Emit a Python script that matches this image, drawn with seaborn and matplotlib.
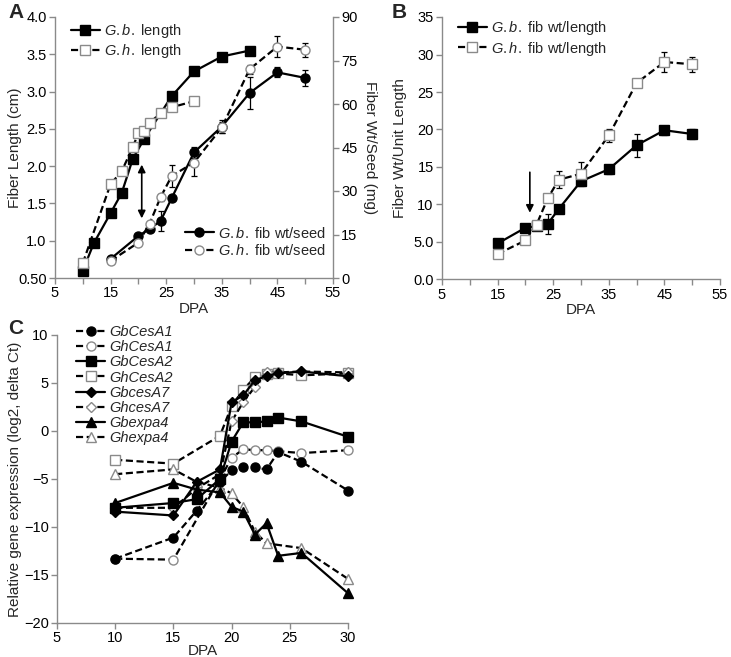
import numpy as np
import pandas as pd
import matplotlib
matplotlib.use("Agg")
import matplotlib.pyplot as plt
import seaborn as sns
from matplotlib.lines import Line2D

sns.set_theme(style="ticks")
plt.rcParams["font.family"] = ["Liberation Sans", "DejaVu Sans"]
plt.rcParams["mathtext.fontset"] = "custom"
plt.rcParams["mathtext.it"] = "Liberation Sans:italic"
plt.rcParams["mathtext.rm"] = "Liberation Sans"
plt.rcParams["font.size"] = 10

# ---------------- Panel A data ----------------
gb_len_dpa = [10, 12, 15, 17, 19, 21, 26, 30, 35, 40]
gb_len = [0.60, 0.97, 1.37, 1.64, 2.10, 2.36, 2.94, 3.27, 3.47, 3.55]
gh_len_dpa = [10, 15, 17, 19, 20, 21, 22, 24, 26, 30]
gh_len = [0.70, 1.76, 1.93, 2.26, 2.44, 2.47, 2.58, 2.71, 2.79, 2.87]

wt_dpa = [15, 20, 22, 24, 26, 30, 35, 40, 45, 50]
gb_wt = [6.6, 14.5, 16.9, 19.7, 27.6, 43.3, 52.2, 63.8, 70.9, 69.0]
gb_wt_err = [0, 0, 0, 3.5, 0, 2.0, 2.3, 5.5, 1.7, 2.8]
gh_wt = [5.9, 12.2, 18.7, 27.9, 35.2, 39.8, 51.9, 72.0, 79.8, 78.7]
gh_wt_err = [0, 0, 0, 1.2, 3.7, 4.5, 2.0, 1.5, 3.7, 2.5]

# ---------------- Panel B data ----------------
wl_dpa = [15, 20, 22, 24, 26, 30, 35, 40, 45, 50]
gb_wl = [4.8, 6.9, 7.1, 7.4, 9.4, 13.1, 14.7, 17.9, 19.9, 19.4]
gb_wl_err = [0, 0, 0, 1.3, 0, 0.6, 0.6, 1.5, 0.6, 0.6]
gh_wl = [3.4, 5.2, 7.3, 10.8, 13.3, 14.1, 19.2, 26.2, 29.0, 28.7]
gh_wl_err = [0, 0, 0, 0, 1.1, 1.5, 0.9, 0.5, 1.3, 1.0]

# ---------------- Panel C data ----------------
gbcesa1_dpa = [10, 15, 17, 19, 20, 21, 22, 23, 24, 26, 30]
gbcesa1 = [-13.3, -11.1, -8.3, -5.3, -4.1, -3.8, -3.8, -4.0, -2.2, -3.2, -6.2]
ghcesa1_dpa = [10, 15, 19, 20, 21, 22, 23, 24, 26, 30]
ghcesa1 = [-13.3, -13.4, -5.0, -2.8, -1.9, -2.0, -2.0, -2.1, -2.3, -2.0]
gbcesa2_dpa = [10, 15, 17, 19, 20, 21, 22, 23, 24, 26, 30]
gbcesa2 = [-8.0, -7.5, -7.1, -5.0, -1.1, 0.9, 0.9, 1.0, 1.4, 1.0, -0.6]
ghcesa2_dpa = [10, 15, 19, 20, 21, 22, 23, 24, 26, 30]
ghcesa2 = [-3.0, -3.4, -0.5, 2.6, 4.3, 5.6, 5.9, 6.0, 5.8, 6.0]
gbcesa7_dpa = [10, 15, 17, 19, 20, 21, 22, 23, 24, 26, 30]
gbcesa7 = [-8.4, -8.8, -5.3, -4.0, 3.0, 3.7, 5.3, 5.7, 6.0, 6.2, 5.7]
ghcesa7_dpa = [10, 15, 17, 19, 20, 21, 22, 23, 24, 26, 30]
ghcesa7 = [-8.0, -8.0, -6.0, -4.5, 1.0, 3.0, 4.6, 6.1, 6.1, 6.2, 6.1]
gbexpa4_dpa = [10, 15, 17, 19, 20, 21, 22, 23, 24, 26, 30]
gbexpa4 = [-7.5, -5.4, -6.1, -6.4, -7.9, -8.4, -10.8, -9.6, -13.0, -12.7, -16.9]
ghexpa4_dpa = [10, 15, 17, 19, 20, 21, 22, 23, 26, 30]
ghexpa4 = [-4.5, -4.0, -5.3, -5.9, -6.5, -7.9, -10.5, -11.7, -12.2, -15.4]

GRAY = "#8a8a8a"
LW = 1.6
DASH = (0, (3.2, 1.6))


def style(filled, dashed, marker, ms):
    return dict(color="black", lw=LW, linestyle=DASH if dashed else "-",
                marker=marker, markersize=ms,
                markerfacecolor="black" if filled else "white",
                markeredgecolor="black" if filled else GRAY,
                markeredgewidth=1.0)


def series(ax, x, y, marker, filled, dashed, ms=7, err=None, z=3):
    df = pd.DataFrame({"x": x, "y": y})
    if err is not None:
        e = np.array(err, dtype=float)
        m = e > 0
        ax.errorbar(np.array(x)[m], np.array(y)[m], yerr=e[m], fmt="none",
                    ecolor="black", elinewidth=0.9, capsize=2.2, capthick=0.9,
                    zorder=z - 0.5, clip_on=False)
    sns.lineplot(data=df, x="x", y="y", ax=ax, sort=False, estimator=None,
                 clip_on=False, zorder=z, **style(filled, dashed, marker, ms))


def handle(marker, filled, dashed, ms=7):
    return Line2D([], [], **style(filled, dashed, marker, ms))


def frame(ax):
    for s in ax.spines.values():
        s.set_color(GRAY)
        s.set_linewidth(1.0)
    ax.tick_params(axis="both", direction="out", length=4, width=1.0,
                   color=GRAY, labelsize=10.5, pad=2, labelcolor="black")
    ax.set_facecolor("none")


W, H = 731, 657
fig = plt.figure(figsize=(W / 100, H / 100), dpi=100)


def axes_px(l, t, r, b):
    return fig.add_axes([l / W, 1 - b / H, (r - l) / W, (b - t) / H])


# ---------------- Panel A ----------------
axA = axes_px(55, 17, 333, 278)
axA2 = axA.twinx()
series(axA, gb_len_dpa, gb_len, "s", True, False, ms=6.5)
series(axA, gh_len_dpa, gh_len, "s", False, True, ms=6.5)
series(axA2, wt_dpa, gb_wt, "o", True, False, ms=6.5, err=gb_wt_err)
series(axA2, wt_dpa, gh_wt, "o", False, True, ms=6.5, err=gh_wt_err)
axA.set_xlim(5, 55)
axA.set_ylim(0.5, 4.0)
axA2.set_ylim(0, 90)
axA.set_xticks(np.arange(5, 56, 5))
axA.set_xticklabels([str(v) if v % 10 == 5 else "" for v in range(5, 56, 5)])
axA.set_yticks([0.5, 1.0, 1.5, 2.0, 2.5, 3.0, 3.5, 4.0])
axA.set_yticklabels(["0.50", "1.0", "1.5", "2.0", "2.5", "3.0", "3.5", "4.0"])
axA2.set_yticks(np.arange(0, 91, 15))
axA.spines["top"].set_visible(False)
axA.spines["right"].set_visible(False)
axA2.spines["top"].set_visible(False)
axA2.spines["left"].set_visible(False)
axA2.spines["bottom"].set_visible(False)
frame(axA)
frame(axA2)
axA.set_xlabel("DPA", fontsize=11, labelpad=1)
axA.set_ylabel("Fiber Length (cm)", fontsize=11)
axA.yaxis.set_label_coords((22 - 55) / 278, 0.5)
axA2.set_ylabel("Fiber Wt/Seed (mg)", fontsize=11, rotation=270, labelpad=14)
axA.annotate("", xy=(20.6, 1.30), xytext=(20.6, 2.02),
             arrowprops=dict(arrowstyle="<|-|>", color="black", lw=1.2,
                             mutation_scale=11, shrinkA=0, shrinkB=0))
legA1 = axA.legend([handle("s", True, False, 6.5), handle("s", False, True, 6.5)],
                   [r"$\it{G.b.}$ length", r"$\it{G.h.}$ length"],
                   loc="upper left", bbox_to_anchor=(0.02, 1.02), frameon=False,
                   fontsize=10.5, handlelength=2.0, handletextpad=0.3,
                   labelspacing=0.15, borderpad=0.2)
legA2 = axA2.legend([handle("o", True, False, 6.5), handle("o", False, True, 6.5)],
                    [r"$\it{G.b.}$ fib wt/seed", r"$\it{G.h.}$ fib wt/seed"],
                    loc="upper left", bbox_to_anchor=(0.43, 0.24), frameon=False,
                    fontsize=10.5, handlelength=2.0, handletextpad=0.3,
                    labelspacing=0.15, borderpad=0.2)

# ---------------- Panel B ----------------
axB = axes_px(442, 17, 720, 279.5)
series(axB, wl_dpa, gb_wl, "s", True, False, ms=6.5, err=gb_wl_err)
series(axB, wl_dpa, gh_wl, "s", False, True, ms=6.5, err=gh_wl_err)
axB.set_xlim(5, 55)
axB.set_ylim(0, 35)
axB.set_xticks(np.arange(5, 56, 5))
axB.set_xticklabels([str(v) if v % 10 == 5 else "" for v in range(5, 56, 5)])
axB.set_yticks(np.arange(0, 36, 5))
axB.set_yticklabels(["0.0", "5.0", "10", "15", "20", "25", "30", "35"])
axB.spines["top"].set_visible(False)
axB.spines["right"].set_visible(False)
frame(axB)
axB.set_xlabel("DPA", fontsize=11, labelpad=1)
axB.set_ylabel("Fiber Wt/Unit Length", fontsize=11)
axB.yaxis.set_label_coords((407 - 442) / 278, 0.5)
axB.annotate("", xy=(20.8, 8.9), xytext=(20.8, 14.3),
             arrowprops=dict(arrowstyle="-|>", color="black", lw=1.2,
                             mutation_scale=11, shrinkA=0, shrinkB=0))
axB.legend([handle("s", True, False, 6.5), handle("s", False, True, 6.5)],
           [r"$\it{G.b.}$ fib wt/length", r"$\it{G.h.}$ fib wt/length"],
           loc="upper left", bbox_to_anchor=(0.02, 1.03), frameon=False,
           fontsize=10.5, handlelength=2.0, handletextpad=0.3,
           labelspacing=0.15, borderpad=0.2)

# ---------------- Panel C ----------------
axC = axes_px(57, 335, 348, 623)
specs = [
    (gbcesa1_dpa, gbcesa1, "o", True, True, "GbCesA1"),
    (ghcesa1_dpa, ghcesa1, "o", False, True, "GhCesA1"),
    (gbcesa2_dpa, gbcesa2, "s", True, False, "GbCesA2"),
    (ghcesa2_dpa, ghcesa2, "s", False, True, "GhCesA2"),
    (gbcesa7_dpa, gbcesa7, "D", True, False, "GbcesA7"),
    (ghcesa7_dpa, ghcesa7, "D", False, True, "GhcesA7"),
    (gbexpa4_dpa, gbexpa4, "^", True, False, "Gbexpa4"),
    (ghexpa4_dpa, ghexpa4, "^", False, True, "Ghexpa4"),
]
order = [1, 3, 5, 7, 0, 2, 4, 6]
for i in order:
    x, y, mk, fl, da, lab = specs[i]
    ms = 5.5 if mk == "D" else 6.5
    series(axC, x, y, mk, fl, da, ms=ms, z=3 + (1 if fl else 0))
axC.set_xlim(5, 30)
axC.set_ylim(-20, 10)
axC.set_xticks(np.arange(5, 31, 5))
axC.set_yticks(np.arange(-20, 11, 5))
axC.spines["top"].set_visible(False)
axC.spines["right"].set_visible(False)
frame(axC)
axC.set_xlabel("DPA", fontsize=11, labelpad=-1)
axC.set_ylabel("Relative gene expression (log2, delta Ct)", fontsize=11)
axC.yaxis.set_label_coords((22 - 57) / 291, 0.5)
hC = [handle(s[2], s[3], s[4], 5.5 if s[2] == "D" else 6.5) for s in specs]
axC.legend(hC, [s[5] for s in specs], loc="upper left",
           bbox_to_anchor=(0.03, 1.07), frameon=False,
           prop=dict(family="Liberation Sans", style="italic", size=10.5),
           handlelength=2.0, handletextpad=0.3, labelspacing=0.08, borderpad=0.2)

# panel letters
fig.text(8 / W, 1 - 12 / H, "A", fontsize=15, fontweight="bold", va="center")
fig.text(392 / W, 1 - 12 / H, "B", fontsize=15, fontweight="bold", va="center")
fig.text(8 / W, 1 - 328 / H, "C", fontsize=15, fontweight="bold", va="center")

fig.savefig("out.png", dpi=100)
